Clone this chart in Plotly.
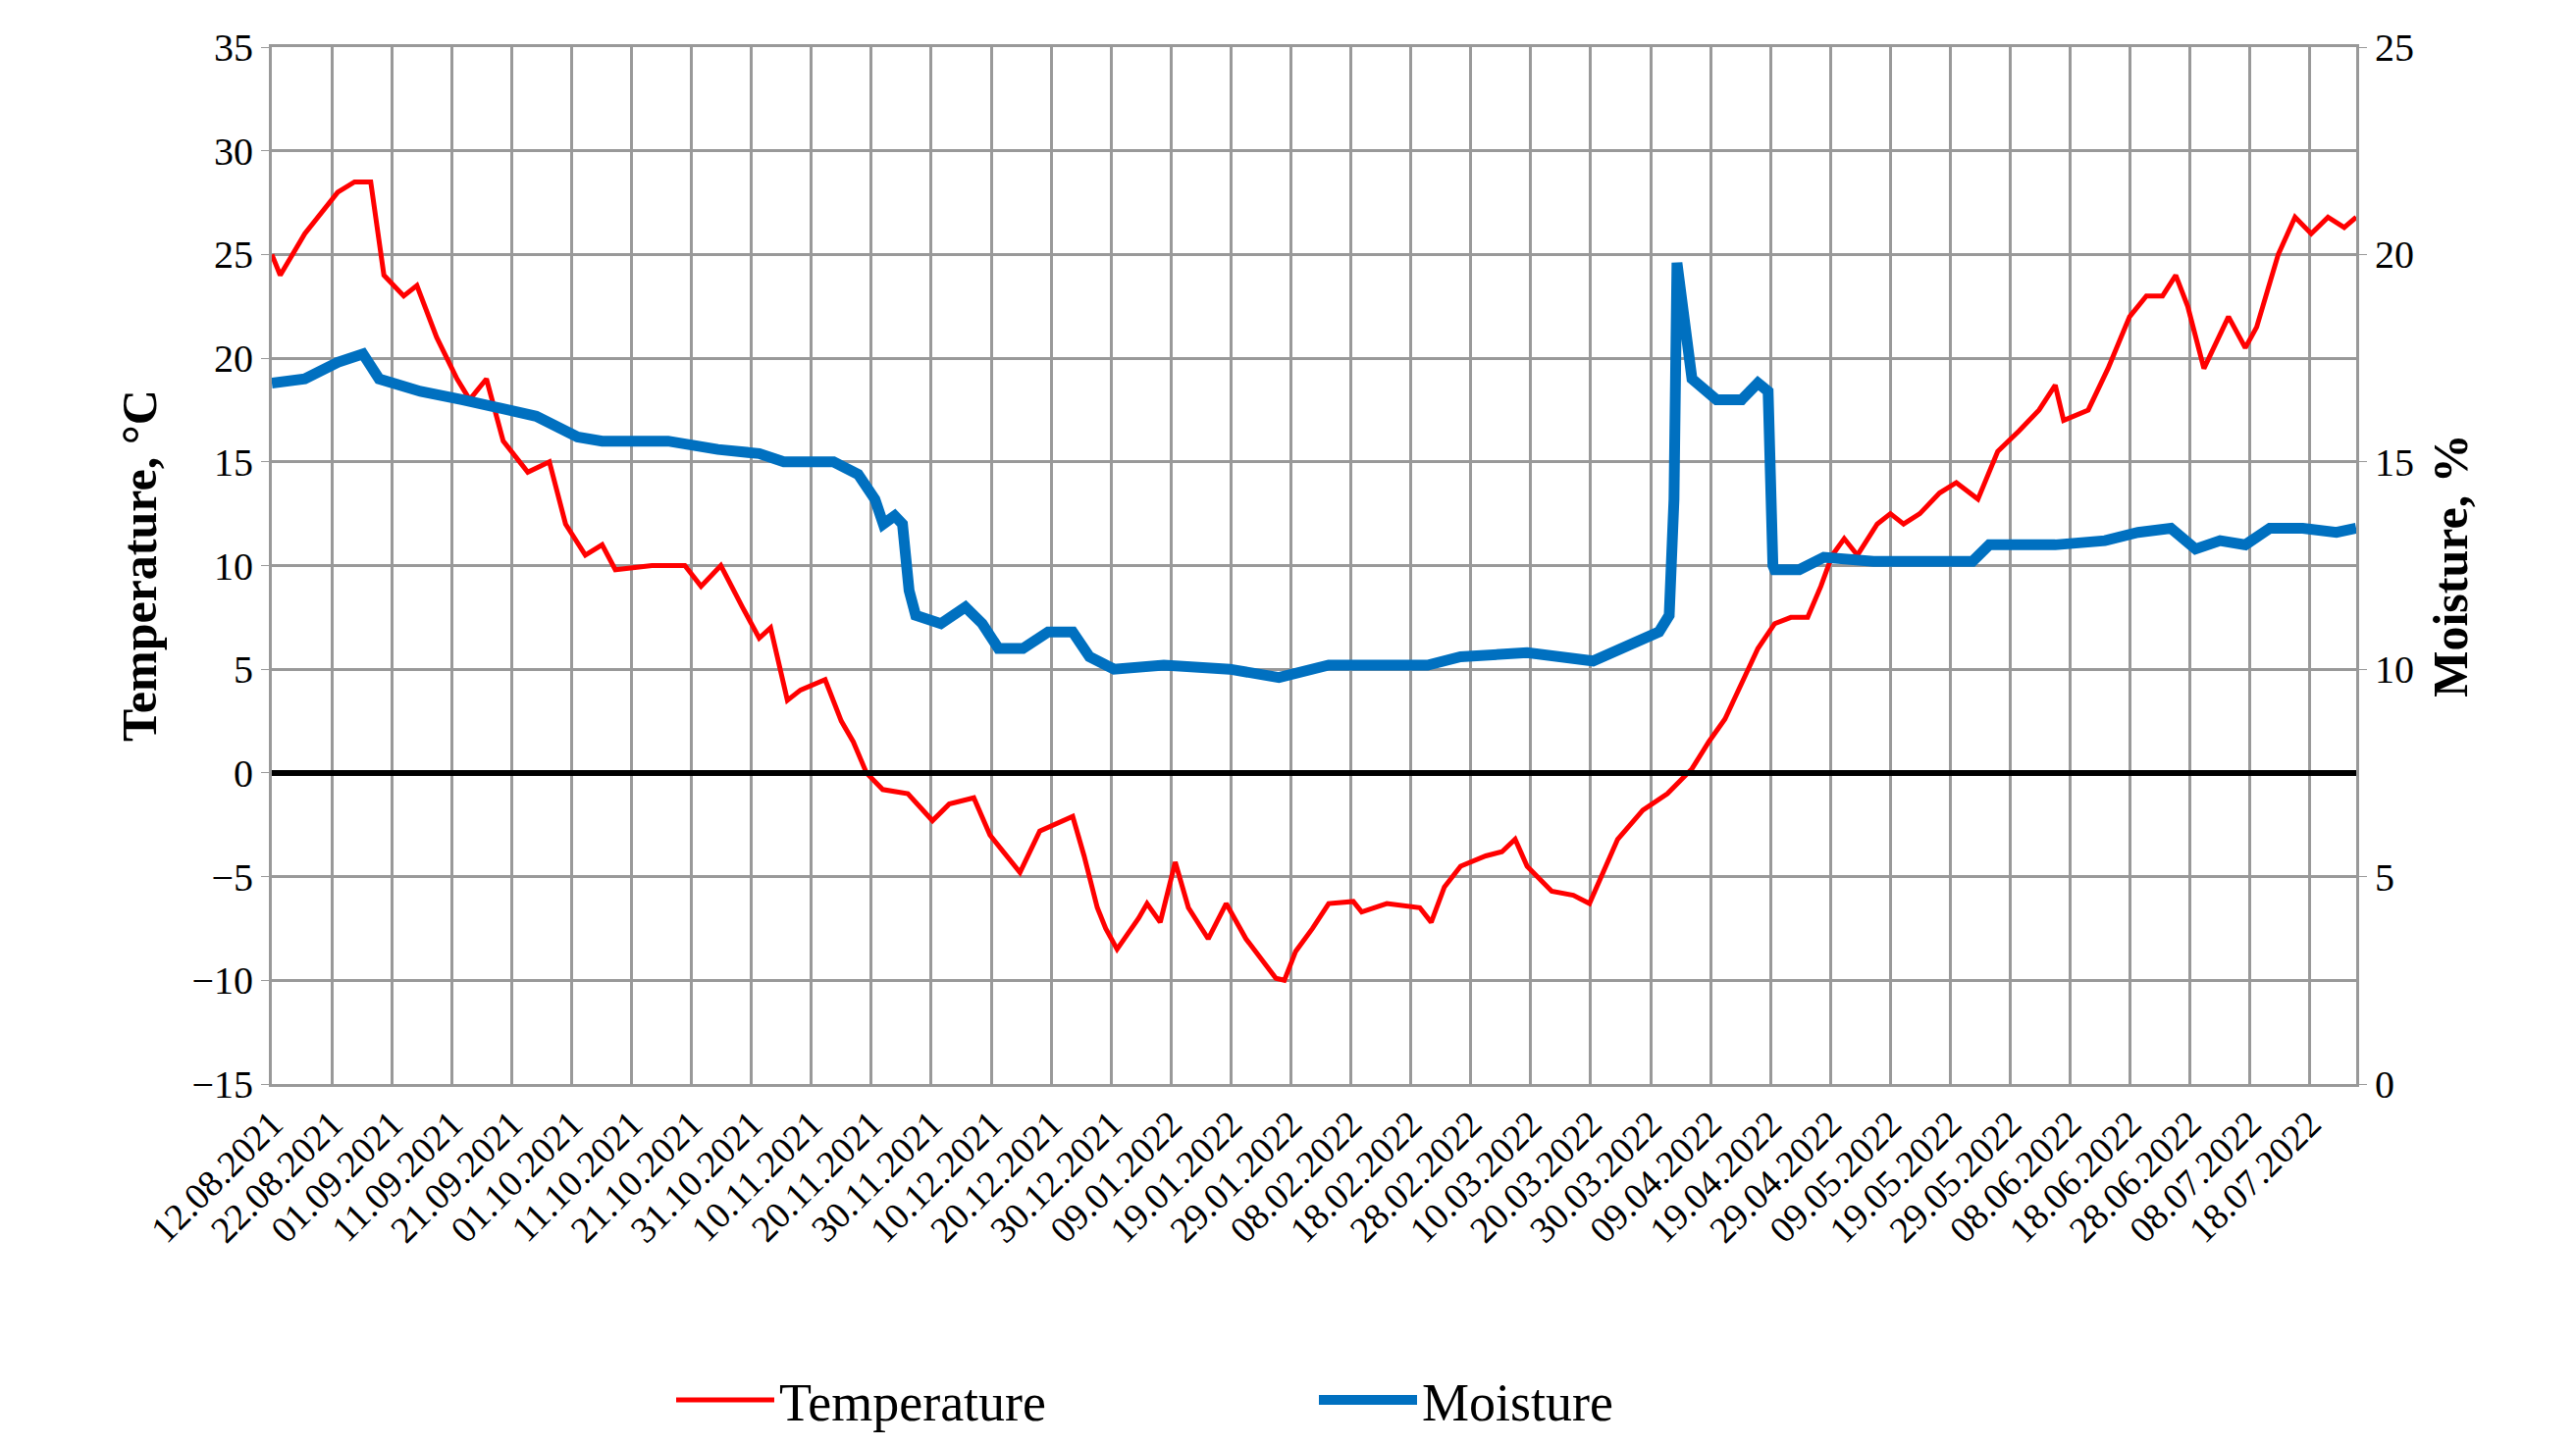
import pandas as pd
import plotly.graph_objects as go

start = pd.Timestamp("2021-08-12")

temp_day = [0,1.4,5.5,11,13.8,16.5,18.7,22,24.2,27.5,30.9,33,35.8,38.6,42.7,46.3,49,52.3,55.1,57.3,63.4,68.9,71.6,74.9,78.5,81.3,83.2,86,88.2,92.3,95,97,99.2,101.9,106.1,110.2,113,117.1,119.8,124.8,128.1,133.6,135.5,137.7,139.1,141,144.6,146,148.2,150.7,152.9,156.2,159.2,162.5,167.5,168.9,170.8,173.6,176.3,180.4,181.8,186,191.5,193.4,195.6,198.3,202.5,205.2,207.4,209.4,213.5,217.1,219.8,221.8,224.5,228.7,232.8,236.9,239.7,242.4,244.6,247.9,250.7,253.4,256.2,258.4,260.3,262.3,264.5,267.8,270,272.2,274.9,278.2,281,284.6,287.9,291.5,294.8,297.5,298.9,303,306.3,309.9,312.7,315.4,317.6,319.6,322.3,326.4,329.2,331.1,334.7,337.5,340.2,343,345.7,347.7]
temp_val = [25,24,26,28,28.5,28.5,24,23,23.5,21,19,18,19,16,14.5,15,12,10.5,11,9.8,10,10,9,10,8,6.5,7,3.5,4,4.5,2.5,1.5,0,-0.8,-1,-2.3,-1.5,-1.2,-3,-4.8,-2.8,-2.1,-4,-6.5,-7.5,-8.5,-7,-6.3,-7.2,-4.3,-6.5,-8,-6.3,-8,-9.9,-10,-8.6,-7.5,-6.3,-6.2,-6.7,-6.3,-6.5,-7.2,-5.5,-4.5,-4,-3.8,-3.2,-4.5,-5.7,-5.9,-6.3,-5,-3.2,-1.8,-1,0.2,1.5,2.6,4,6,7.2,7.5,7.5,9,10.5,11.3,10.5,12,12.5,12,12.5,13.5,14,13.2,15.5,16.5,17.5,18.7,17,17.5,19.5,22,23,23,24,22.5,19.5,22,20.5,21.5,25,26.8,26,26.8,26.3,26.8]

moist_day = [0,5.5,11,15.2,17.9,24.8,31.7,38.6,44.1,51,55.1,66.1,74.4,81.3,85.4,93.7,97.8,100.6,102,103.9,105.2,106.3,107.4,111.6,115.7,118.5,121.2,125.3,129.5,133.6,136.4,140.5,148.8,159.8,168,176.3,184.6,192.8,198.3,209.4,220.4,227.3,231.4,233.1,233.9,234.4,235.3,236.9,241.0,245.2,247.9,249.6,250.4,250.7,254.8,258.9,267.2,275.5,283.7,286.5,297.5,305.8,311.3,316.8,320.9,325,329.2,333.3,338.8,344.4,347.7]
moist_val = [16.9,17.0,17.4,17.6,17.0,16.7,16.5,16.3,16.1,15.6,15.5,15.5,15.3,15.2,15.0,15.0,14.7,14.1,13.5,13.7,13.5,11.9,11.3,11.1,11.5,11.1,10.5,10.5,10.9,10.9,10.3,10.0,10.1,10.0,9.8,10.1,10.1,10.1,10.3,10.4,10.2,10.6,10.9,11.3,14.1,19.8,18.8,17.0,16.5,16.5,16.9,16.7,12.5,12.4,12.4,12.7,12.6,12.6,12.6,13.0,13.0,13.1,13.3,13.4,12.9,13.1,13.0,13.4,13.4,13.3,13.4]

temp_x = [start + pd.Timedelta(days=d) for d in temp_day]
moist_x = [start + pd.Timedelta(days=d) for d in moist_day]
x_end = start + pd.Timedelta(days=347.7)

font = "Liberation Serif"
fig = go.Figure()
fig.add_trace(go.Scatter(x=temp_x, y=temp_val, name="Temperature", mode="lines",
                         line=dict(color="#ff0000", width=5)))
fig.add_trace(go.Scatter(x=moist_x, y=moist_val, name="Moisture", mode="lines",
                         line=dict(color="#0070c0", width=11), yaxis="y2"))
fig.add_trace(go.Scatter(x=[start, x_end], y=[0, 0], mode="lines", showlegend=False,
                         line=dict(color="black", width=6), hoverinfo="skip"))

grid = "#999999"
fig.update_layout(
    width=2625, height=1474,
    paper_bgcolor="white", plot_bgcolor="white",
    margin=dict(l=269, r=232, t=40, b=370),
    font=dict(family=font, size=40, color="black"),
    xaxis=dict(type="date", range=[start, x_end], tick0="2021-08-12", dtick=864000000,
               tickformat="%d.%m.%Y", tickangle=-45, showgrid=True, gridcolor=grid,
               gridwidth=3, showline=True, linecolor=grid, linewidth=3, mirror=True,
               ticks="", tickfont=dict(size=38)),
    yaxis=dict(range=[-15, 35], dtick=5, showgrid=True, gridcolor=grid, gridwidth=3,
               zeroline=False, showline=True, linecolor=grid, linewidth=3, ticks="outside",
               tickcolor=grid, ticklen=8,
               title=dict(text="<b>Temperature, °C</b>", font=dict(size=50), standoff=20)),
    yaxis2=dict(range=[0, 25], dtick=5, overlaying="y", side="right", showgrid=False,
                zeroline=False, showline=True, linecolor=grid, linewidth=3, ticks="outside",
                tickcolor=grid, ticklen=8,
                title=dict(text="<b>Moisture, %</b>", font=dict(size=50), standoff=20)),
    legend=dict(orientation="h", x=0.5, xanchor="center", y=-0.305, yanchor="middle",
                font=dict(size=54), itemwidth=100, entrywidth=540, entrywidthmode="pixels"),
    showlegend=True,
)
fig.write_html("out.html")
